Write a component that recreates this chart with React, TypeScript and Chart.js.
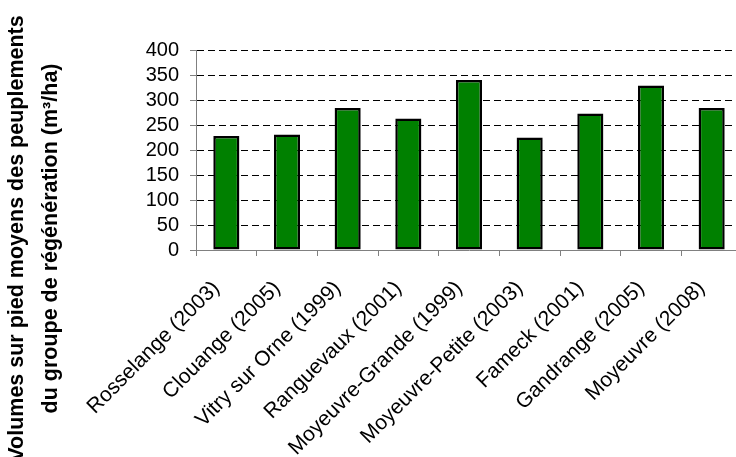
import { useEffect, useRef } from "react";
import { Chart, registerables } from "chart.js";

Chart.register(...registerables);

// Sites (year of regeneration) and mean standing volume per site
const sites = [
  "Rosselange (2003)",
  "Clouange (2005)",
  "Vitry sur Orne (1999)",
  "Ranguevaux (2001)",
  "Moyeuvre-Grande (1999)",
  "Moyeuvre-Petite (2003)",
  "Fameck (2001)",
  "Gandrange (2005)",
  "Moyeuvre (2008)",
];
const volumes = [228, 231, 284, 263, 340, 225, 273, 329, 284];

const yMin = 0;
const yMax = 400;
const yStep = 50;

const titleLines = [
  "Volumes sur pied moyens des peuplements",
  "du groupe de régénération (m³/ha)",
];

const FONT = "'Liberation Sans', Arial, sans-serif";

// Two-line rotated title for the value axis, centred on the full canvas height
const valueAxisTitle = {
  id: "valueAxisTitle",
  afterDraw(chart: any) {
    const ctx = chart.ctx as CanvasRenderingContext2D;
    const baselines = [22.5, 57];
    const cy = 238.5;
    ctx.save();
    ctx.fillStyle = "#000";
    ctx.font = `bold 21.5px ${FONT}`;
    ctx.textAlign = "center";
    ctx.textBaseline = "alphabetic";
    titleLines.forEach((line, i) => {
      ctx.save();
      ctx.translate(baselines[i], cy);
      ctx.rotate(-Math.PI / 2);
      ctx.fillText(line, 0, 0);
      ctx.restore();
    });
    ctx.restore();
  },
};

export default function App() {
  const canvasRef = useRef<HTMLCanvasElement | null>(null);

  useEffect(() => {
    const canvas = canvasRef.current;
    if (!canvas) return;
    const chart = new Chart(canvas, {
      type: "bar",
      data: {
        labels: sites,
        datasets: [
          {
            data: volumes,
            backgroundColor: "#008000",
            borderColor: "#000000",
            borderWidth: 2.5,
            borderSkipped: false,
            barPercentage: 0.43,
            categoryPercentage: 1,
          },
        ],
      },
      options: {
        animation: false,
        responsive: false,
        devicePixelRatio: 1,
        layout: { padding: { top: 50, right: 18, left: 0, bottom: 0 } },
        plugins: {
          legend: { display: false },
          tooltip: { enabled: false },
        },
        scales: {
          x: {
            offset: true,
            grid: {
              offset: true,
              drawOnChartArea: false,
              color: "#808080",
              tickLength: 6,
            },
            border: { color: "#808080", width: 1 },
            ticks: {
              minRotation: 45,
              maxRotation: 45,
              autoSkip: false,
              color: "#000",
              font: { family: FONT, size: 21 },
              padding: 20,
              labelOffset: -10,
            },
            afterFit(scale: any) {
              scale.height = 207;
            },
          },
          y: {
            min: yMin,
            max: yMax,
            ticks: {
              stepSize: yStep,
              autoSkip: false,
              color: "#000",
              font: { family: FONT, size: 20, lineHeight: 1 },
              padding: 11,
            },
            grid: {
              color: (c: any) => (c.tick && c.tick.value === 0 ? "rgba(0,0,0,0)" : "#000"),
              tickColor: "#808080",
              tickLength: 6,
              lineWidth: 1,
            },
            border: { color: "#808080", width: 1, dash: [7, 4] },
            afterFit(scale: any) {
              scale.width = 196;
            },
          },
        },
      },
      plugins: [valueAxisTitle],
    });
    return () => chart.destroy();
  }, []);

  return (
    <div
      style={{
        position: "fixed",
        left: 0,
        top: 0,
        width: 736,
        height: 457,
        overflow: "hidden",
        background: "#fff",
      }}
    >
      <canvas ref={canvasRef} width={760} height={457} style={{ width: 760, height: 457, display: "block" }} />
    </div>
  );
}
